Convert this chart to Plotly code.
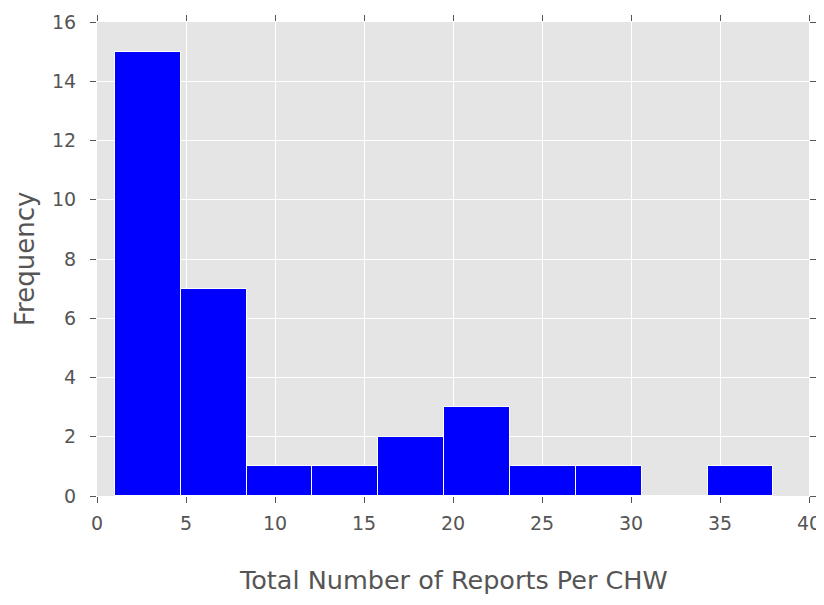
import plotly.graph_objects as go

bin_edges = [1.0, 4.7, 8.4, 12.1, 15.8, 19.5, 23.2, 26.9, 30.6, 34.3, 38.0]
counts = [15, 7, 1, 1, 2, 3, 1, 1, 0, 1]
x_ticks = [0, 5, 10, 15, 20, 25, 30, 35, 40]
y_ticks = [0, 2, 4, 6, 8, 10, 12, 14, 16]

centers = [(a + b) / 2 for a, b in zip(bin_edges[:-1], bin_edges[1:])]
widths = [b - a for a, b in zip(bin_edges[:-1], bin_edges[1:])]

fig = go.Figure(go.Bar(
    x=centers, y=counts, width=widths,
    marker=dict(color="#0000FF", line=dict(color="white", width=1)),
))

axis_common = dict(
    showgrid=True, gridcolor="white", gridwidth=1,
    ticks="outside", ticklen=6, tickcolor="#555555", tickwidth=1,
    mirror="ticks", showline=False, zeroline=False, automargin=False,
    tickfont=dict(family="DejaVu Sans", size=19, color="#555555"),
)

# page body has an 8px margin; compensate so the plot lands where the reference does
fig.update_layout(
    width=816, height=597,
    margin=dict(l=89, r=15, t=14, b=109),
    plot_bgcolor="#E5E5E5", paper_bgcolor="white",
    showlegend=False, bargap=0,
    xaxis=dict(range=[0, 40], tickvals=x_ticks, ticklabelstandoff=4, **axis_common),
    yaxis=dict(range=[0, 16], tickvals=y_ticks, ticklabelstandoff=10, **axis_common),
    annotations=[
        dict(text="Total Number of Reports Per CHW", xref="paper", yref="paper",
             x=0.5, y=-84 / 474, xanchor="center", yanchor="middle", showarrow=False,
             font=dict(family="DejaVu Sans", size=25.5, color="#555555")),
        dict(text="Frequency", xref="paper", yref="paper",
             x=-72 / 712, y=0.5, xanchor="center", yanchor="middle", showarrow=False,
             textangle=-90,
             font=dict(family="DejaVu Sans", size=26, color="#555555")),
    ],
)

fig.write_html("out.html")
